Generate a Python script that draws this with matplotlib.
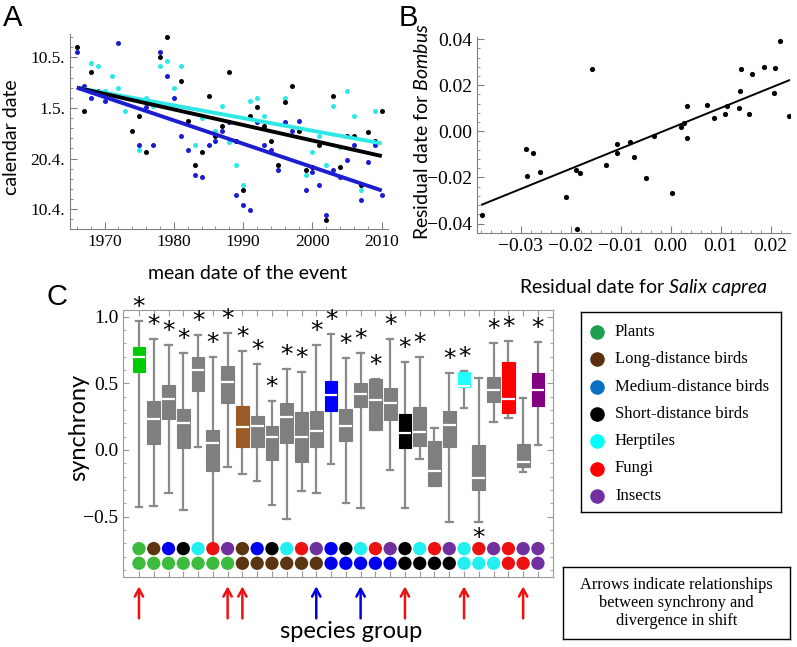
import matplotlib
matplotlib.use('Agg')
import matplotlib.pyplot as plt
import numpy as np
from matplotlib.ticker import MultipleLocator, FixedLocator, FixedFormatter

W, H = 797, 647
SERIF = 'Liberation Serif'
SANS = 'Lato'
HELV = 'Liberation Sans'
plt.rcParams['mathtext.fontset'] = 'custom'
plt.rcParams['mathtext.it'] = 'Lato:italic'
plt.rcParams['mathtext.rm'] = 'Lato'

# ---------------- Panel A data ----------------
years = list(range(1966, 2011))
nan = float('nan')
black_days = [132.1, 119.4, 127.0, nan, nan, nan, nan, nan, 115.5, 118.5,
              111.3, nan, 130.1, 134.1, nan, 125.3, 117.5, 108.7, 111.3, 122.3,
              114.5, 116.5, 127.0, 113.5, 103.8, 118.5, 120.1, 116.5, 113.5, 108.7,
              121.1, 124.3, 115.5, 107.7, 108.4, 112.6, 97.9, 122.3, 108.4, 114.5,
              114.5, 104.7, 115.2, 113.5, 119.4]
cyan_days = [nan, nan, 128.9, 128.3, 123.4, 126.3, 124.0, 119.4, nan, 111.6,
             122.0, 120.3, 128.3, 129.3, 124.0, 128.3, nan, 112.6, 118.1, nan,
             115.5, 120.4, 113.2, 108.7, 104.7, 121.3, 122.0, 118.5, nan, nan,
             122.0, nan, nan, 106.7, 111.3, 114.5, 108.7, 120.4, 112.2, 123.4,
             118.5, 103.8, nan, 119.4, nan]
blue_days = [131.1, 124.4, 122.0, 123.4, 121.4, nan, 132.8, nan, nan, 112.6,
             120.1, 112.6, 131.1, 126.3, 122.0, 114.5, 111.6, 106.7, 106.4, 112.6,
             113.5, 115.5, 117.2, 102.8, 100.8, 99.8, 117.2, 112.6, 111.6, 107.7,
             117.2, 115.5, 117.5, 103.8, 107.4, 104.7, 98.9, 107.7, 106.4, 109.7,
             112.6, 101.8, 109.3, 112.6, 102.8]
trend_years = [1966, 2010]
trend_black = [124.0, 110.5]
trend_cyan = [124.0, 113.0]
trend_blue = [124.0, 103.7]
a_xticks = [1970, 1980, 1990, 2000, 2010]
a_yticks = [100, 110, 120, 130]
a_yticklabels = ['10.4.', '20.4.', '1.5.', '10.5.']

# ---------------- Panel B data ----------------
salix = [-0.0377, -0.0290, -0.0288, -0.0275, -0.0261, -0.0210, -0.0189, -0.0187,
         -0.0181, -0.0157, -0.0129, -0.0108, -0.0108, -0.0082, -0.0074, -0.0050,
         -0.0033, 0.0003, 0.0021, 0.0027, 0.0032, 0.0032, 0.0073, 0.0087,
         0.0109, 0.0112, 0.0136, 0.0139, 0.0141, 0.0156, 0.0162, 0.0187,
         0.0207, 0.0208, 0.0219, 0.0236]
bombus = [-0.0362, -0.0076, -0.0192, -0.0095, -0.0177, -0.0285, -0.0167, -0.0424,
          -0.0182, 0.0269, -0.0148, -0.0055, -0.0092, -0.0048, -0.0112, -0.0202,
          -0.0020, -0.0269, 0.0020, 0.0035, 0.0111, -0.0030, 0.0115, 0.0058,
          0.0075, 0.0111, 0.0099, 0.0174, 0.0269, 0.0073, 0.0249, 0.0277,
          0.0166, 0.0274, 0.0393, 0.0068]
fit_x = [-0.0377, 0.0238]
fit_y = [-0.0318, 0.0222]
b_xticks = [-0.03, -0.02, -0.01, 0.0, 0.01, 0.02]
b_xticklabels = ['\u22120.03', '\u22120.02', '\u22120.01', '0.00', '0.01', '0.02']
b_yticks = [-0.04, -0.02, 0.0, 0.02, 0.04]
b_yticklabels = ['\u22120.04', '\u22120.02', '0.00', '0.02', '0.04']

# ---------------- Panel C data ----------------
groups = ['Plants', 'Long-distance birds', 'Medium-distance birds',
          'Short-distance birds', 'Herptiles', 'Fungi', 'Insects']
dot_colors = ['#3dbb3d', '#5b3411', '#0000ee', '#000000', '#22f0f0', '#ee1111', '#7030a0']
box_group_colors = ['#00cc00', '#9c5b26', '#0000ff', '#000000', '#22ffff', '#ff0000', '#800080']
legend_colors = ['#1fa050', '#5a3010', '#0a70c0', '#000000', '#00ffff', '#ff0000', '#7030a0']
# pair (top group, bottom group) per column
top_group = [0, 1, 2, 3, 4, 5, 6, 1, 2, 3, 4, 5, 6, 2, 3, 4, 5, 6, 3, 4, 5, 6, 4, 5, 6, 5, 6, 6]
bottom_group = [0, 0, 0, 0, 0, 0, 0, 1, 1, 1, 1, 1, 1, 2, 2, 2, 2, 2, 3, 3, 3, 3, 4, 4, 4, 5, 5, 6]
whis_lo = [-0.425, -0.42, -0.325, -0.45, 0.025, -0.74, -0.13, -0.18, -0.233, -0.415,
           -0.515, -0.305, -0.32, -0.105, -0.395, -0.435, 0.15, -0.15, -0.433, -0.065,
           -0.27, -0.537, 0.315, -0.543, 0.213, 0.243, -0.163, 0.035]
q1 = [0.587, 0.045, 0.23, 0.013, 0.443, -0.16, 0.355, 0.025, 0.02, -0.075,
      0.05, -0.09, 0.02, 0.295, 0.065, 0.325, 0.15, 0.225, 0.013, 0.03,
      -0.27, 0.023, 0.47, -0.303, 0.363, 0.275, -0.13, 0.33]
med = [0.695, 0.233, 0.385, 0.2, 0.6, 0.05, 0.512, 0.175, 0.18, 0.095,
       0.25, 0.1, 0.145, 0.413, 0.183, 0.42, 0.377, 0.35, 0.125, 0.135,
       -0.16, 0.185, 0.48, -0.208, 0.45, 0.385, -0.088, 0.453]
q3 = [0.775, 0.368, 0.485, 0.307, 0.70, 0.152, 0.628, 0.333, 0.257, 0.18,
      0.35, 0.285, 0.295, 0.52, 0.305, 0.503, 0.53, 0.465, 0.273, 0.325,
      0.07, 0.295, 0.585, 0.0375, 0.548, 0.663, 0.045, 0.578]
whis_hi = [0.97, 0.83, 0.79, 0.725, 0.865, 0.695, 0.877, 0.74, 0.643, 0.365,
           0.61, 0.587, 0.785, 0.873, 0.693, 0.725, 0.53, 0.83, 0.66, 0.695,
           0.167, 0.575, 0.595, 0.543, 0.805, 0.82, 0.388, 0.81]
star = ['up'] * 20 + ['', 'up', 'up', 'down', 'up', 'up', '', 'up']
arrow_cols = [0, 6, 7, 12, 15, 18, 22, 26]
arrow_colors = ['#ee1111', '#ee1111', '#ee1111', '#0000dd', '#0000dd', '#ee1111', '#ee1111', '#ee1111']
c_yticks = [-0.5, 0.0, 0.5, 1.0]
c_yticklabels = ['\u22120.5', '0.0', '0.5', '1.0']
note_lines = ['Arrows indicate relationships', 'between synchrony and', 'divergence in shift']


def fx(px):
    return px / W


def fy(py):
    return 1 - py / H


fig = plt.figure(figsize=(W / 100, H / 100), dpi=100)
AXC = '#808080'

# ================= Panel A =================
axA = fig.add_axes([fx(70), fy(229), fx(388) - fx(70), fy(34) - fy(229)])
axA.scatter(years, cyan_days, s=13, color='#2ee8e8', linewidths=0, zorder=3)
axA.scatter(years, black_days, s=13, color='#000000', linewidths=0, zorder=3)
axA.scatter(years, blue_days, s=13, color='#1c1cd0', linewidths=0, zorder=3)
axA.plot(trend_years, trend_cyan, color='#2ee8e8', lw=2.8, zorder=4, solid_capstyle='butt')
axA.plot(trend_years, trend_black, color='#000000', lw=2.8, zorder=4, solid_capstyle='butt')
axA.plot(trend_years, trend_blue, color='#1c1cd0', lw=2.8, zorder=4, solid_capstyle='butt')
axA.set_xlim(1965, 2010.9)
axA.set_ylim(96.1, 134.6)
axA.xaxis.set_major_locator(FixedLocator(a_xticks))
axA.xaxis.set_minor_locator(MultipleLocator(2))
axA.yaxis.set_major_locator(FixedLocator(a_yticks))
axA.yaxis.set_major_formatter(FixedFormatter(a_yticklabels))
axA.yaxis.set_minor_locator(MultipleLocator(2))
for s in ['top', 'right']:
    axA.spines[s].set_visible(False)
for s in ['left', 'bottom']:
    axA.spines[s].set_color(AXC)
axA.tick_params(which='both', direction='in', color=AXC, labelsize=12.5)
axA.tick_params(which='major', length=5)
axA.tick_params(which='minor', length=2.5)
for lab in axA.get_xticklabels() + axA.get_yticklabels():
    lab.set_fontfamily(SERIF)
fig.text(fx(248), fy(273), 'mean date of the event', family=SANS, fontsize=14,
         ha='center', va='center')
fig.text(fx(12), fy(137), 'calendar date', family=SANS, fontsize=14,
         ha='center', va='center', rotation=90)

# ================= Panel B =================
axB = fig.add_axes([fx(477), fy(233), fx(790) - fx(477), fy(37) - fy(233)])
axB.scatter(salix, bombus, s=14, color='black', linewidths=0, zorder=3)
axB.plot(fit_x, fit_y, color='black', lw=1.4, zorder=2)
axB.set_xlim(-0.0387, 0.0239)
axB.set_ylim(-0.0441, 0.0409)
axB.xaxis.set_major_locator(FixedLocator(b_xticks))
axB.xaxis.set_major_formatter(FixedFormatter(b_xticklabels))
axB.xaxis.set_minor_locator(MultipleLocator(0.002))
axB.yaxis.set_major_locator(FixedLocator(b_yticks))
axB.yaxis.set_major_formatter(FixedFormatter(b_yticklabels))
axB.yaxis.set_minor_locator(MultipleLocator(0.004))
for s in ['top', 'right']:
    axB.spines[s].set_visible(False)
for s in ['left', 'bottom']:
    axB.spines[s].set_color(AXC)
axB.tick_params(which='both', direction='in', color=AXC, labelsize=14)
axB.tick_params(which='major', length=5)
axB.tick_params(which='minor', length=2.5)
for lab in axB.get_xticklabels() + axB.get_yticklabels():
    lab.set_fontfamily(SERIF)
fig.text(fx(643), fy(287), 'Residual date for $\\it{Salix\\ caprea}$', family=SANS,
         fontsize=14, ha='center', va='center')
fig.text(fx(422), fy(132), 'Residual date for $\\it{Bombus}$', family=SANS,
         fontsize=14, ha='center', va='center', rotation=90)

# ================= Panel C =================
axC = fig.add_axes([fx(123), fy(577), fx(553) - fx(123), fy(310) - fy(577)])
ncol = len(med)
pos = list(range(ncol))
stats = []
for i in range(ncol):
    stats.append(dict(med=med[i], q1=q1[i], q3=q3[i], whislo=whis_lo[i],
                      whishi=whis_hi[i], fliers=[]))
bp = axC.bxp(stats, positions=pos, widths=0.86, patch_artist=True,
             showfliers=False, capwidths=0.45,
             boxprops=dict(linewidth=0.8),
             medianprops=dict(color='white', linewidth=1.6),
             whiskerprops=dict(color='#8a8a8a', linewidth=1.6),
             capprops=dict(color='#8a8a8a', linewidth=1.6))
for i, patch in enumerate(bp['boxes']):
    if top_group[i] == bottom_group[i]:
        c = box_group_colors[top_group[i]]
    else:
        c = '#7f7f7f'
    patch.set_facecolor(c)
    patch.set_edgecolor(c)
for art in bp['whiskers'] + bp['caps']:
    art.set_zorder(1)
for i in range(ncol):
    if star[i] == 'up':
        axC.text(pos[i], whis_hi[i] + 0.015, '*', family='DejaVu Sans', fontsize=18,
                 ha='center', va='bottom', zorder=5)
    elif star[i] == 'down':
        axC.text(pos[i], whis_lo[i] - 0.03, '*', family='DejaVu Sans', fontsize=18,
                 ha='center', va='top', zorder=5)
axC.scatter(pos, [-0.74] * ncol, s=92, c=[dot_colors[g] for g in top_group],
            linewidths=0, zorder=6)
axC.scatter(pos, [-0.85] * ncol, s=92, c=[dot_colors[g] for g in bottom_group],
            linewidths=0, zorder=6)
axC.set_xlim(-1.08, 28.02)
axC.set_ylim(-0.953, 1.05)
axC.xaxis.set_major_locator(FixedLocator(pos))
axC.yaxis.set_major_locator(FixedLocator(c_yticks))
axC.yaxis.set_major_formatter(FixedFormatter(c_yticklabels))
axC.yaxis.set_minor_locator(MultipleLocator(0.1))
for s in axC.spines.values():
    s.set_color('#999999')
axC.tick_params(which='both', direction='in', color='#999999', top=True, right=True,
                labelbottom=False, labelsize=14)
axC.tick_params(which='major', length=4)
axC.tick_params(which='minor', length=2.5)
for lab in axC.get_yticklabels():
    lab.set_fontfamily(SERIF)
tr = axC.get_xaxis_transform()
for c, col in zip(arrow_cols, arrow_colors):
    axC.annotate('', xy=(c, -0.035), xycoords=tr, xytext=(c, -0.155), textcoords=tr,
                 annotation_clip=False,
                 arrowprops=dict(arrowstyle='->,head_length=0.55,head_width=0.3',
                                 color=col, lw=1.8, shrinkA=0, shrinkB=0))
fig.text(fx(351), fy(631), 'species group', family=SANS, fontsize=17,
         ha='center', va='center')
fig.text(fx(79), fy(427), 'synchrony', family=SANS, fontsize=17,
         ha='center', va='center', rotation=90)

# legend box
axL = fig.add_axes([fx(581), fy(512), fx(781) - fx(581), fy(312) - fy(512)])
axL.set_xlim(0, 200)
axL.set_ylim(200, 0)
axL.set_xticks([])
axL.set_yticks([])
for s in axL.spines.values():
    s.set_color('black')
    s.set_linewidth(1.0)
for i, (g, c) in enumerate(zip(groups, legend_colors)):
    yy = 20 + i * 27.3
    axL.scatter([16], [yy], s=110, color=c, linewidths=0)
    axL.text(34, yy, g, family=SERIF, fontsize=12, ha='left', va='center')

# note box
axN = fig.add_axes([fx(563), fy(639), fx(790) - fx(563), fy(567) - fy(639)])
axN.set_xticks([])
axN.set_yticks([])
for s in axN.spines.values():
    s.set_color('black')
    s.set_linewidth(1.0)
axN.text(0.5, 0.5, '\n'.join(note_lines), family=SERIF, fontsize=11.8,
         ha='center', va='center', linespacing=1.15, transform=axN.transAxes)

# panel letters
fig.text(fx(12.5), fy(17.5), 'A', family=HELV, fontsize=21, ha='center', va='center')
fig.text(fx(408), fy(18), 'B', family=HELV, fontsize=21, ha='center', va='center')
fig.text(fx(57), fy(297), 'C', family=HELV, fontsize=21, ha='center', va='center')

fig.savefig('out.png', dpi=100)
